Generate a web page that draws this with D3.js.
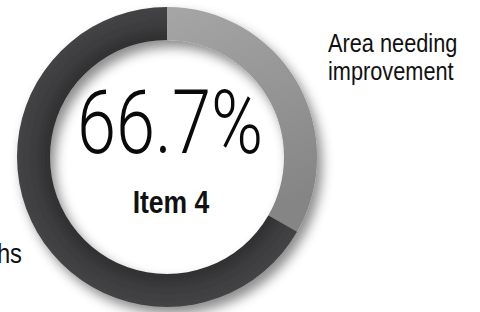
<!DOCTYPE html>
<head>
  <meta charset="utf-8">
  <script src="https://d3js.org/d3.v7.min.js"></script>
  <style>
    body { margin:0; background:#fff; }
    .label { font-family: "Liberation Sans", Arial, sans-serif; fill:#111; }
  </style>
</head>
<body>
  <script>
    // chart data
    var categories = ['Area needing improvement', 'Strengths'];
    var values = [33.3, 66.7];
    var itemName = 'Item 4';

    var width = 480, height = 312;
    var cx = 167, cy = 157;
    var outerR = 150, innerR = 117;

    var svg = d3.select('body').append('svg')
      .attr('width', width)
      .attr('height', height);

    var defs = svg.append('defs');

    var shadow = defs.append('filter').attr('id', 'shadow')
      .attr('x', '-20%').attr('y', '-20%').attr('width', '150%').attr('height', '150%');
    shadow.append('feDropShadow')
      .attr('dx', 5).attr('dy', 7).attr('stdDeviation', 6)
      .attr('flood-color', '#000').attr('flood-opacity', 0.45);

    var grayGrad = defs.append('linearGradient').attr('id', 'grayGrad')
      .attr('gradientUnits', 'userSpaceOnUse')
      .attr('x1', 0).attr('y1', -outerR).attr('x2', outerR * 0.6).attr('y2', outerR * 0.4);
    grayGrad.append('stop').attr('offset', '0%').attr('stop-color', '#a6a6a6');
    grayGrad.append('stop').attr('offset', '100%').attr('stop-color', '#858585');

    var darkGrad = defs.append('radialGradient').attr('id', 'darkGrad')
      .attr('gradientUnits', 'userSpaceOnUse')
      .attr('cx', 0).attr('cy', 0).attr('r', outerR);
    darkGrad.append('stop').attr('offset', innerR / outerR).attr('stop-color', '#2f2f31');
    darkGrad.append('stop').attr('offset', '0.88').attr('stop-color', '#3c3c3e');
    darkGrad.append('stop').attr('offset', '1').attr('stop-color', '#444446');

    var color = d3.scaleOrdinal()
      .domain(categories)
      .range(['url(#grayGrad)', 'url(#darkGrad)']);

    var pie = d3.pie().sort(null).value(function(d) { return d.value; });
    var arc = d3.arc().innerRadius(innerR).outerRadius(outerR);

    var data = categories.map(function(c, i) { return { name: c, value: values[i] }; });

    var g = svg.append('g')
      .attr('transform', 'translate(' + cx + ',' + cy + ')')
      .attr('filter', 'url(#shadow)');

    g.selectAll('.slice')
      .data(pie(data))
      .enter().append('path')
      .attr('class', 'slice')
      .attr('d', arc)
      .attr('fill', function(d) { return color(d.data.name); });

    // condensed text: squeeze Liberation Sans horizontally
    function narrowText(x, y, sx, size, anchor) {
      return svg.append('g')
        .attr('transform', 'translate(' + x + ',' + y + ') scale(' + sx + ',1)')
        .append('text')
        .attr('class', 'label')
        .attr('text-anchor', anchor || 'start')
        .style('font-size', size + 'px');
    }

    // centre text
    svg.append('text')
      .attr('x', 170).attr('y', 153)
      .attr('text-anchor', 'middle')
      .attr('textLength', 186)
      .attr('lengthAdjust', 'spacingAndGlyphs')
      .style('font-family', 'Roboto, "Open Sans", sans-serif')
      .style('font-weight', 300)
      .style('font-size', '89px')
      .style('fill', '#0a0a0a')
      .text(d3.format('.1f')(values[1]) + '%');

    narrowText(171, 213, 0.83, 32, 'middle')
      .style('font-weight', 'bold')
      .text(itemName);

    // slice labels
    var rightLabel = narrowText(328, 52, 0.87, 25);
    rightLabel.append('tspan').attr('x', 0).text('Area needing');
    rightLabel.append('tspan').attr('x', 0).attr('dy', 28).text('improvement');

    narrowText(22, 263, 0.85, 28, 'end')
      .text(categories[1]);
  </script>
</body>
